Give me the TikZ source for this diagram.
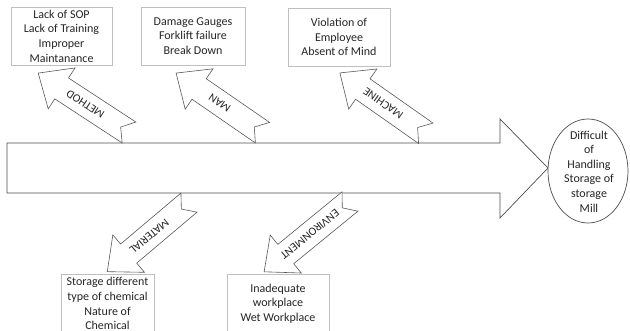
\documentclass[tikz,border=0pt]{standalone}
\usepackage{fontspec}
\setmainfont{Carlito}
\usetikzlibrary{shapes.geometric}
\newcommand\fatarrow[5]{%
  \begin{scope}[shift={(#1)}, rotate=#2]
    \draw[arrline] (0,12.5) -- ({#3-28},12.5) -- ({#3-28},24.5) -- (#3,0)
      -- ({#3-28},-24.5) -- ({#3-28},-12.5) -- (0,-12.5) -- (10,0) -- cycle;
    \node[arrlabel, rotate=#2] (#4) at (52,0) {#5};
  \end{scope}}
\begin{document}
\begin{tikzpicture}[x=1pt,y=-1pt,
  boxline/.style={draw=black!25, fill=white, line width=0.6pt, inner sep=0pt,
    align=center, font=\fontsize{12}{14.6}\selectfont, text=black!85},
  arrline/.style={draw=black!65, fill=white, line width=0.6pt, line join=miter},
  txt/.style={align=center, font=\fontsize{12}{14.6}\selectfont, inner sep=0pt, text=black!85},
  arrlabel/.style={font=\fontsize{11.5}{12}\selectfont, inner sep=0pt, text=black!85}]
\useasboundingbox (0,0) rectangle (630,331);
\clip (0,0) rectangle (630,331);
% spine arrow
\draw[draw=black!70, line width=0.7pt, line join=miter]
  (7,143) -- (500,143) -- (500,119) -- (548,168) -- (500,218) -- (500,193) -- (7,193) -- cycle;
% bones
\fatarrow{129,132.5}{146.8}{108.5}{lmethod}{METHOD}
\fatarrow{262.5,132.7}{145.4}{105}{lman}{MAN}
\fatarrow{425.8,133.3}{144.9}{105}{lmachine}{MACHINE}
\fatarrow{189,202.6}{220.2}{107}{lmaterial}{MATERIAL}
\fatarrow{350,201.5}{219.3}{111}{lenv}{ENVIRONMENT}
% cause boxes
\node[boxline, minimum width=101pt, minimum height=58pt] (b1) at (61.5,36)
  {Lack of SOP\\Lack of Training\\Improper\\Maintanance};
\node[boxline, minimum width=104pt, minimum height=58pt] (b2) at (193,36)
  {Damage Gauges\\Forklift failure\\Break Down};
\node[boxline, minimum width=102pt, minimum height=58pt] (b3) at (339,37)
  {Violation of\\Employee\\Absent of Mind};
\node[boxline, minimum width=93pt, minimum height=59.5pt] (b4) at (107.5,303.75)
  {Storage different\\type of chemical\\Nature of\\Chemical};
\node[boxline, minimum width=102pt, minimum height=59.5pt] (b5) at (278,303.75)
  {Inadequate\\workplace\\Wet Workplace};
% effect
\node[ellipse, draw=black!70, line width=0.7pt, fill=white, minimum width=80pt,
  minimum height=104pt, inner sep=0pt] (effect) at (588,171) {};
\node[txt] (effecttext) at (589,171.5)
  {Difficult\\of\\Handling\\Storage of\\storage\\Mill};
\end{tikzpicture}
\end{document}
